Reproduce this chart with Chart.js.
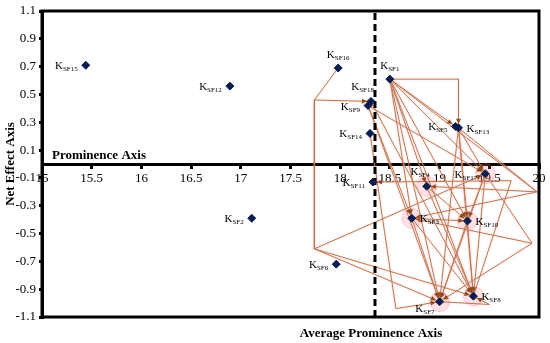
<!DOCTYPE html>
<html>
<head>
<meta charset="utf-8">
<script src="https://cdn.jsdelivr.net/npm/chart.js@4.4.1/dist/chart.umd.min.js"></script>
<style>
html,body{margin:0;padding:0;background:#fff}
#cadre{width:550px;height:343px}
</style>
</head>
<body>
<div id="cadre"><canvas id="grapheKSF"></canvas></div>
<script>
// facteurs (indices KSF) et leurs coordonnees
var noms       = ["SF1","SF2","SF3","SF4","SF5","SF6","SF7","SF8","SF9","SF10","SF11","SF12","SF13","SF14","SF15","SF16","SF17","SF18"];
var prominence = [18.50,17.11,18.72,18.87,19.16,17.96,19.00,19.34,18.28,19.28,18.33,16.89,19.19,18.30,15.44,17.98,19.46,18.31];
var effetNet   = [0.61,-0.39,-0.39,-0.16,0.27,-0.72,-0.99,-0.95,0.42,-0.41,-0.13,0.56,0.26,0.22,0.71,0.69,-0.07,0.45];

// coudes des connecteurs
var coudesNoms = ["B1","B2","B3","B4","B5","B6","B7","B8"];
var coudesX    = [17.74,17.74,19.19,19.98,19.93,19.72,18.56,19.50];
var coudesY    = [0.46,-0.61,0.61,-0.20,-0.57,-0.12,-1.04,-1.01];

// liens d'influence (origine, coudes..., cible)
var liens = [
    ["SF16","B1","SF18"],
    ["B1","B2","SF17"],
    ["B2","SF7"],
    ["B2","SF8"],
    ["SF1","B3","SF13"],
    ["SF1","SF5"],
    ["SF1","SF17"],
    ["SF1","B4"],
    ["SF1","SF10"],
    ["SF1","SF4"],
    ["SF1","SF3"],
    ["SF1","SF7"],
    ["SF1","SF8"],
    ["SF9","SF17"],
    ["SF9","SF3"],
    ["SF9","SF7"],
    ["SF18","SF8"],
    ["SF14","B7","SF7"],
    ["SF13","SF17"],
    ["SF13","SF10"],
    ["SF13","B4"],
    ["SF13","SF8"],
    ["SF13","SF7"],
    ["SF8","B6","SF11"],
    ["B4","SF4"],
    ["B4","SF3"],
    ["SF3","SF10"],
    ["SF4","SF10"],
    ["SF10","SF7"],
    ["SF10","SF8"],
    ["SF17","SF10"],
    ["SF17","B5","SF7"],
    ["SF4","SF8"],
    ["SF3","SF7"],
    ["SF3","SF8"],
    ["SF7","B8","SF8"],
    ["SF17","SF7"],
    ["SF17","SF8"],
    ["B5","SF3"]
];

var ciblesHalo = ["SF3","SF4","SF7","SF8","SF10","SF17"];
var moyenneProminence = 18.35;

var xTicks = [15,15.5,16,16.5,17,17.5,18,18.5,19,19.5,20];
var yTicks = [-1.1,-0.9,-0.7,-0.5,-0.3,-0.1,0.1,0.3,0.5,0.7,0.9,1.1];

// position des etiquettes K_SF autour du point
var positionEtiquettes = {
    SF1:"dessus", SF2:"gauche", SF3:"droite", SF4:"hautGauche", SF5:"gauche", SF6:"gauche",
    SF7:"basGauche", SF8:"droite", SF9:"gauche", SF10:"droite", SF11:"gauche", SF12:"gauche",
    SF13:"droite", SF14:"gauche", SF15:"gauche", SF16:"dessus", SF17:"gauche", SF18:"hautGauche"
};

function position(nom){
    var i = noms.indexOf(nom);
    if (i >= 0) return {x: prominence[i], y: effetNet[i]};
    var j = coudesNoms.indexOf(nom);
    return {x: coudesX[j], y: coudesY[j]};
}

var police = "'Liberation Serif', 'Times New Roman', serif";
Chart.defaults.font.family = police;
Chart.defaults.color = "#000";

var datasets = [];

// points des facteurs
datasets.push({
    label: "facteurs",
    data: noms.map(function(n, i){ return {x: prominence[i], y: effetNet[i]}; }),
    showLine: false,
    pointStyle: "rectRot",
    pointRadius: 4,
    backgroundColor: "#0b1d4f",
    borderColor: "#0b1d4f",
    borderWidth: 1,
    order: 0
});

// ligne pointillee de la prominence moyenne
datasets.push({
    label: "moyenne",
    data: [{x: moyenneProminence, y: -1.1}, {x: moyenneProminence, y: 1.1}],
    showLine: true,
    borderColor: "#000",
    borderWidth: 3,
    borderDash: [7, 4],
    pointRadius: 0,
    order: 1
});

// liens
liens.forEach(function(l){
    datasets.push({
        label: l.join("-"),
        data: l.map(position),
        showLine: true,
        fleche: l[l.length-1].indexOf("SF") === 0,
        borderColor: "#b8764c",
        borderWidth: 1,
        pointRadius: 0,
        tension: 0,
        order: 2
    });
});

// halos roses autour des cibles
datasets.push({
    label: "halo",
    data: ciblesHalo.map(position),
    showLine: false,
    pointStyle: "circle",
    pointRadius: 10,
    backgroundColor: "rgba(255,110,120,0.2)",
    borderColor: "rgba(255,110,120,0.3)",
    borderWidth: 1,
    order: 3
});

var pluginFleches = {
    id: "fleches",
    beforeDatasetDraw: function(chart, args){
        var ds = chart.data.datasets[args.index];
        if (ds.order === 2){
            chart.ctx.save();
            chart.ctx.shadowColor = "rgba(255,170,180,0.55)";
            chart.ctx.shadowBlur = 3;
        }
    },
    afterDatasetDraw: function(chart, args){
        var ds = chart.data.datasets[args.index];
        if (ds.order !== 2) return;
        var ctx = chart.ctx;
        ctx.restore();
        if (!ds.fleche) return;
        var pts = chart.getDatasetMeta(args.index).data;
        var a = pts[pts.length-2], b = pts[pts.length-1];
        var ang = Math.atan2(b.y - a.y, b.x - a.x);
        ctx.save();
        ctx.translate(b.x - Math.cos(ang)*4, b.y - Math.sin(ang)*4);
        ctx.rotate(ang);
        ctx.beginPath();
        ctx.moveTo(0, 0);
        ctx.lineTo(-5, -2.5);
        ctx.lineTo(-5, 2.5);
        ctx.closePath();
        ctx.fillStyle = "#8e4a1c";
        ctx.fill();
        ctx.restore();
    }
};

var pluginTextes = {
    id: "textes",
    afterDraw: function(chart){
        var ctx = chart.ctx;
        var ca = chart.chartArea;
        var xs = chart.scales.x, ys = chart.scales.y;
        ctx.save();
        // cadre
        ctx.strokeStyle = "#000";
        ctx.lineWidth = 3;
        ctx.strokeRect(ca.left, ca.top, ca.right - ca.left, ca.bottom - ca.top);

        // titres
        ctx.fillStyle = "#000";
        ctx.font = "bold 13px " + police;
        ctx.textBaseline = "alphabetic";
        ctx.textAlign = "left";
        ctx.fillText("Prominence Axis", xs.getPixelForValue(15.1), ys.getPixelForValue(0) - 5);
        ctx.textAlign = "center";
        ctx.fillText("Average Prominence Axis", xs.getPixelForValue(moyenneProminence) - 4, ca.bottom + 20);

        // etiquettes K_SF
        var meta = chart.getDatasetMeta(0).data;
        noms.forEach(function(n, i){
            var p = meta[i];
            ctx.font = "11px " + police;
            var wK = ctx.measureText("K").width;
            ctx.font = "7px " + police;
            var wS = ctx.measureText(n).width;
            var w = wK + wS;
            var x0, y0;
            switch (positionEtiquettes[n]){
                case "gauche":     x0 = p.x - 8 - w; y0 = p.y + 4; break;
                case "droite":     x0 = p.x + 8;     y0 = p.y + 4; break;
                case "dessus":     x0 = p.x - w/2;   y0 = p.y - 10; break;
                case "hautGauche": x0 = p.x + 3 - w; y0 = p.y - 11; break;
                case "basGauche":  x0 = p.x - 5 - w; y0 = p.y + 10; break;
            }
            ctx.textAlign = "left";
            ctx.font = "11px " + police;
            ctx.fillText("K", x0, y0);
            ctx.font = "7px " + police;
            ctx.fillText(n, x0 + wK, y0 + 2);
        });
        ctx.restore();
    }
};

var ctx = document.getElementById("grapheKSF");
var monGraphe = new Chart(ctx, {
    type: "scatter",
    data: {datasets: datasets},
    options: {
        responsive: true,
        maintainAspectRatio: false,
        animation: false,
        layout: {padding: {top: 6, right: 8, bottom: 26, left: 0}},
        plugins: {legend: {display: false}, tooltip: {enabled: false}},
        scales: {
            x: {
                type: "linear",
                min: 15, max: 20,
                position: {y: 0},
                afterBuildTicks: function(scale){ scale.ticks = xTicks.map(function(v){ return {value: v}; }); },
                ticks: {font: {size: 13}, padding: 4, maxRotation: 0, callback: function(v){ return String(v); }},
                grid: {drawOnChartArea: false, tickLength: 3, lineWidth: 3, color: "#000"},
                border: {color: "#000", width: 3}
            },
            y: {
                type: "linear",
                min: -1.1, max: 1.1,
                afterFit: function(scale){ scale.width = 42; },
                afterBuildTicks: function(scale){ scale.ticks = yTicks.map(function(v){ return {value: v}; }); },
                ticks: {font: {size: 13}, padding: 3, callback: function(v){ return v.toFixed(1); }},
                grid: {drawOnChartArea: false, tickLength: 3, lineWidth: 3, color: "#000"},
                border: {color: "#000", width: 3},
                title: {display: true, text: "Net Effect Axis", font: {size: 13, weight: "bold"}, padding: {top: 3, bottom: 0}}
            }
        }
    },
    plugins: [pluginFleches, pluginTextes]
});
</script>
</body>
</html>
